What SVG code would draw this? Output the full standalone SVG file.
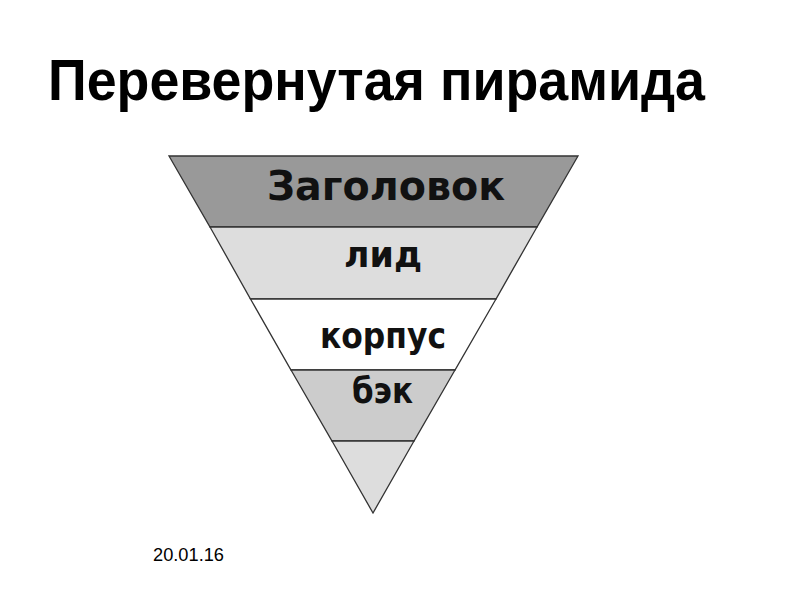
<svg xmlns="http://www.w3.org/2000/svg" width="794" height="595" viewBox="0 0 794 595">
<style>
.band{stroke:#333;stroke-width:1.3}
.lbl{font-family:"DejaVu Sans",sans-serif;font-weight:bold;fill:#111}
.title{font-family:"Liberation Sans",Arial,sans-serif;font-weight:bold;fill:#000}
</style>
<rect width="794" height="595" fill="#fff"/>
<text class="title" x="48" y="100" font-size="57" textLength="657" lengthAdjust="spacingAndGlyphs">Перевернутая пирамида</text>
<g id="band1"><polygon class="band" points="169,156 578,156 537,227 210,227" fill="#999999"/><text class="lbl" x="267" y="200" font-size="41" textLength="238" lengthAdjust="spacingAndGlyphs">Заголовок</text></g>
<g id="band2"><polygon class="band" points="210,227 537,227 496,299 250.5,299" fill="#dddddd"/><text class="lbl" x="344" y="267" font-size="35" textLength="78" lengthAdjust="spacingAndGlyphs">лид</text></g>
<g id="band3"><polygon class="band" points="250.5,299 496,299 455,370 291,370" fill="#ffffff"/><text class="lbl" x="320" y="348" font-size="35" textLength="126" lengthAdjust="spacingAndGlyphs">корпус</text></g>
<g id="band4"><polygon class="band" points="291,370 455,370 414,441 332,441" fill="#cccccc"/><text class="lbl" x="352" y="403" font-size="35" textLength="61" lengthAdjust="spacingAndGlyphs">бэк</text></g>
<g id="band5"><polygon class="band" points="332,441 414,441 373,513" fill="#dddddd"/></g>
<text x="153" y="561" font-family="Liberation Sans,Arial,sans-serif" font-size="18" fill="#000" textLength="71" lengthAdjust="spacingAndGlyphs">20.01.16</text>
</svg>
